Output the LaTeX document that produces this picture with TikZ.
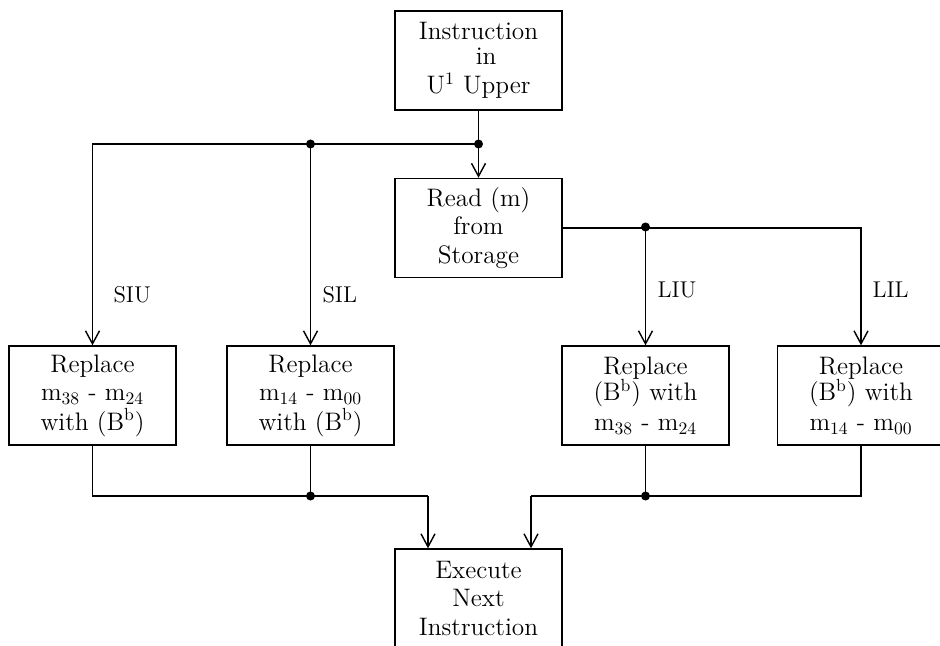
\documentclass[tikz,border=0pt]{standalone}
\usetikzlibrary{arrows.meta}

\begin{document}
\begin{tikzpicture}[>={Straight Barb[length=2.6mm,width=2.8mm]},thick,
   stepbox/.style={rectangle,draw,minimum width=3.34cm,minimum height=1.98cm,
                   align=center,inner sep=2pt,font=\fontsize{14.4}{16}\selectfont},
   tag/.style={font=\fontsize{13}{15}\selectfont,anchor=west},
   junction/.style={circle,fill,inner sep=0pt,minimum size=1.8mm}]
   \useasboundingbox (0.00,0.00) rectangle (18.80,12.90);
   \node (instr) at (9.57,11.69) [stepbox] {Instruction\\[-2pt]\hspace*{0.6em}in\\[1pt]U$^1$ Upper};
   \node (read)  at (9.57,8.34)  [stepbox] {Read (m)\\from\\Storage};
   \node (siu)   at (1.85,4.99)  [stepbox] {Replace\\m\textsubscript{38} - m\textsubscript{24}\\[1pt]with (B$^\mathrm{b}$)};
   \node (sil)   at (6.21,4.99)  [stepbox] {Replace\\m\textsubscript{14} - m\textsubscript{00}\\[1pt]with (B$^\mathrm{b}$)};
   \node (liu)   at (12.91,4.99) [stepbox] {Replace\\[-1pt](B$^\mathrm{b}$) with\\[1pt]m\textsubscript{38} - m\textsubscript{24}};
   \node (lil)   at (17.22,4.99) [stepbox] {Replace\\[-1pt](B$^\mathrm{b}$) with\\[1pt]m\textsubscript{14} - m\textsubscript{00}};
   \node (exec)  at (9.57,0.93)  [stepbox] {Execute\\Next\\Instruction};
   % junctions
   \node (top)   at (9.57,10.02) [junction] {};
   \node (split) at (6.21,10.02) [junction] {};
   \node (load)  at (12.91,8.36) [junction] {};
   \node (joinl) at (6.21,2.98)  [junction] {};
   \node (joinr) at (12.91,2.98) [junction] {};
   \coordinate (inl) at (8.56,2.98);
   \coordinate (inr) at (10.62,2.98);
   % labels
   \node at (2.14,7.00)  [tag] {SIU};
   \node at (6.32,7.00)  [tag] {SIL};
   \node at (13.02,7.10) [tag] {LIU};
   \node at (17.32,7.10) [tag] {LIL};
   % store / load branches
   \draw     (instr) to (top.center);
   \draw[->] (top.center) to (read);
   \draw[->] (top.center) -| (siu);
   \draw[->] (split.center) to (sil);
   \draw[->] (read) -| (lil);
   \draw[->] (load.center) to (liu);
   % back to execute
   \draw     (siu) |- (inl);
   \draw[->] (inl) to (inl |- exec.north);
   \draw     (sil) to (joinl.center);
   \draw     (lil) |- (inr);
   \draw[->] (inr) to (inr |- exec.north);
   \draw     (liu) to (joinr.center);
\end{tikzpicture}
\end{document}
